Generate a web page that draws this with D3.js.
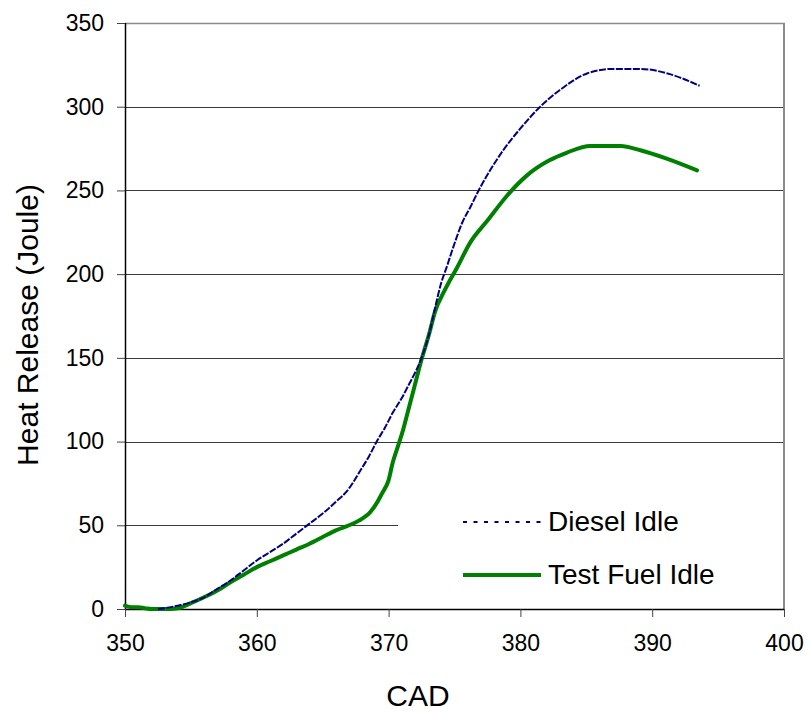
<!DOCTYPE html>
<html>
<head>
<meta charset="utf-8">
<script src="https://cdn.jsdelivr.net/npm/d3@7"></script>
<style>
  html, body { margin: 0; padding: 0; background: #fff; }
  svg { display: block; font-family: "Liberation Sans", Arial, sans-serif; }
</style>
</head>
<body>
<svg id="chart" width="809" height="712"></svg>
<script>
// ---- Data ----
const dieselCAD = [352.5, 353, 354, 355, 356, 357, 358, 359, 360, 361, 362, 363, 364, 365, 366, 367, 367.8, 368.5, 369.1, 369.7, 370.3, 371, 371.6, 372, 372.5, 373.1, 373.5, 374, 374.4, 374.9, 375.6, 376.2, 376.9, 377.7, 378.7, 380, 381.5, 383, 385.1, 387, 389.1, 391.1, 393.6];
const dieselHeat = [0, 0.5, 2, 4, 7, 12, 17, 23, 29, 34, 39, 45, 51, 57, 64, 72, 82, 91, 100, 108, 117, 126, 135, 141, 150, 165, 179, 195, 204, 216, 231, 240, 251, 262, 274, 287, 300, 310, 320, 322.6, 322.6, 320, 312.5];

const testCAD = [350, 350.5, 351, 351.5, 352, 353, 354, 355, 356, 357, 358, 359, 360, 361, 362, 363, 364, 365, 366, 367, 368, 368.5, 369, 369.5, 370, 370.3, 370.7, 371.1, 371.5, 371.9, 372.5, 373.1, 373.5, 374.3, 375.2, 376.2, 377.5, 379, 380.5, 382.2, 383.5, 385.3, 387.6, 389.1, 391.1, 393.4];
const testHeat = [2, 1, 1, 0.5, 0, 0, 0.5, 3.5, 7, 11, 16, 20.5, 25, 28.5, 32, 35.5, 39, 43, 47, 50, 54, 57, 62, 69, 77, 87, 97, 107, 119, 131, 149, 165, 177, 191, 204, 219, 232, 247, 259, 268, 272.5, 276.6, 276.6, 274, 269, 262];

const xTicks = [350, 360, 370, 380, 390, 400];
const yTicks = [0, 50, 100, 150, 200, 250, 300, 350];
const seriesNames = ["Diesel Idle", "Test Fuel Idle"];
const seriesColors = ["#000080", "#008000"];

// ---- Layout ----
const svg = d3.select("#chart");
const pL = 125, pT = 23, pR = 784, pB = 609;

const x = d3.scaleLinear().domain([350, 400]).range([pL, pR]);
const y = d3.scaleLinear().domain([0, 350]).range([pB, pT]);

// gridlines
svg.append("g").selectAll("line").data(yTicks.filter(d => d > 0 && d < 350)).join("line")
  .attr("x1", pL).attr("x2", pR)
  .attr("y1", d => Math.round(y(d)) + 0.5).attr("y2", d => Math.round(y(d)) + 0.5)
  .attr("stroke", "#3a3a3a").attr("stroke-width", 1);

// top & right border (gray)
svg.append("line").attr("x1", pL).attr("x2", pR + 1)
  .attr("y1", Math.round(y(350)) + 0.5).attr("y2", Math.round(y(350)) + 0.5)
  .attr("stroke", "#8a8a8a").attr("stroke-width", 1.5);
svg.append("line").attr("x1", pR).attr("x2", pR)
  .attr("y1", y(350)).attr("y2", pB)
  .attr("stroke", "#8a8a8a").attr("stroke-width", 2);

// axes
const xAxis = d3.axisBottom(x).tickValues(xTicks).tickSize(8).tickPadding(18).tickFormat(d3.format("d"));
const yAxis = d3.axisLeft(y).tickValues(yTicks).tickSize(8).tickPadding(13).tickFormat(d3.format("d"));

const gx = svg.append("g").attr("transform", `translate(0,${pB})`).call(xAxis);
gx.select(".domain").attr("stroke", "#000").attr("stroke-width", 1.5).attr("d", `M${pL},0.5H${pR}`);
gx.selectAll(".tick line").attr("stroke", "#444").attr("stroke-width", 1);
gx.selectAll(".tick text").attr("font-size", 23).attr("fill", "#000").attr("font-family", "Liberation Sans, Arial, sans-serif");

const gy = svg.append("g").attr("transform", `translate(${pL},0)`).call(yAxis);
gy.select(".domain").attr("stroke", "#000").attr("stroke-width", 1.5).attr("d", `M0.5,${pT}V${pB}`);
gy.selectAll(".tick line").attr("stroke", "#444").attr("stroke-width", 1);
gy.selectAll(".tick text").attr("font-size", 23).attr("fill", "#000").attr("font-family", "Liberation Sans, Arial, sans-serif");

// lines
const line = d3.line().x(d => x(d[0])).y(d => y(d[1])).curve(d3.curveMonotoneX);
const dieselData = dieselCAD.map((c, i) => [c, dieselHeat[i]]);
const testData = testCAD.map((c, i) => [c, testHeat[i]]);

svg.append("path").datum(testData)
  .attr("d", line).attr("fill", "none")
  .attr("stroke", seriesColors[1]).attr("stroke-width", 4)
  .attr("stroke-linejoin", "round").attr("stroke-linecap", "round");

svg.append("path").datum(dieselData)
  .attr("d", line).attr("fill", "none")
  .attr("stroke", seriesColors[0]).attr("stroke-width", 2)
  .attr("stroke-dasharray", "7,1.5");

// legend
const lg = svg.append("g");
lg.append("rect").attr("x", 398).attr("y", 472).attr("width", 385).attr("height", 132).attr("fill", "#fff");
const legendY = [522, 575];
seriesNames.forEach((name, i) => {
  lg.append("line").attr("x1", 463).attr("x2", 541)
    .attr("y1", legendY[i]).attr("y2", legendY[i])
    .attr("stroke", seriesColors[i])
    .attr("stroke-width", i === 0 ? 2 : 4)
    .attr("stroke-dasharray", i === 0 ? "4,6.5" : null);
  lg.append("text").attr("x", 548).attr("y", legendY[i] + 9)
    .attr("font-size", 28).attr("fill", "#000").text(name);
});

// axis titles
svg.append("text").attr("x", 418).attr("y", 706).attr("text-anchor", "middle")
  .attr("font-size", 30).attr("fill", "#000").text("CAD");
svg.append("text").attr("transform", "translate(38,325) rotate(-90)").attr("text-anchor", "middle")
  .attr("font-size", 30).attr("fill", "#000").text("Heat Release (Joule)");
</script>
</body>
</html>
